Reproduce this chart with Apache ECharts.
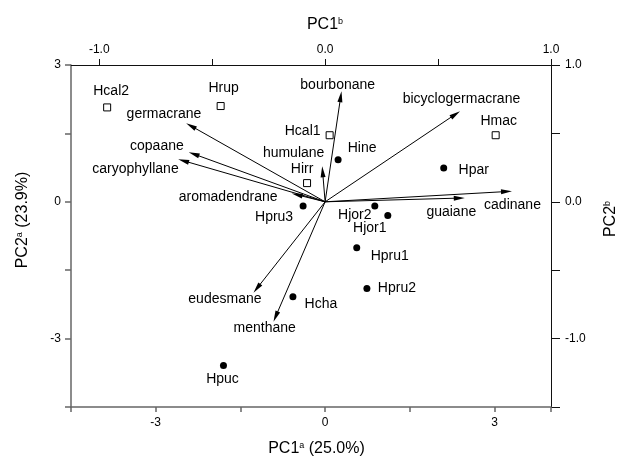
<!DOCTYPE html>
<html>
<head>
<meta charset="utf-8">
<script src="https://cdn.jsdelivr.net/npm/echarts@6/dist/echarts.min.js"></script>
<style>html,body{margin:0;padding:0;background:#fff;}#c{width:627px;height:462px;}</style>
</head>
<body>
<div id="c"></div>
<script>
// ---- data ----
const openNames = ['Hcal2', 'Hrup', 'Hcal1', 'Hirr', 'Hmac'];
const openPC1 = [-3.86, -1.85, 0.08, -0.32, 3.02];
const openPC2 = [2.07, 2.10, 1.46, 0.41, 1.46];

const filledNames = ['Hine', 'Hpar', 'Hpru3', 'Hjor2', 'Hjor1', 'Hpru1', 'Hpru2', 'Hcha', 'Hpuc'];
const filledPC1 = [0.23, 2.10, -0.39, 0.88, 1.11, 0.56, 0.74, -0.57, -1.80];
const filledPC2 = [0.92, 0.74, -0.09, -0.09, -0.30, -1.01, -1.90, -2.08, -3.59];

const loadingNames = ['bourbonane', 'bicyclogermacrane', 'germacrane', 'copaane', 'caryophyllane',
  'aromadendrane', 'humulane', 'cadinane', 'guaiane', 'eudesmane', 'menthane'];
const loadingPC1 = [0.069, 0.577, -0.594, -0.581, -0.627, -0.124, -0.011, 0.803, 0.594, -0.302, -0.219];
const loadingPC2 = [0.769, 0.640, 0.555, 0.349, 0.300, 0.051, 0.220, 0.075, 0.027, -0.633, -0.839];

const bottomLabels = [-3, 0, 3];
const leftLabels = [-3, 0, 3];
const topTicks = [-1, -0.5, 0, 0.5, 1];
const topLabels = [-1, 0, 1];
const rightLabels = [-1, 0, 1];

// ---- styling (label placement, px) ----
const labelOffsets = {
  Hcal2: [4, -16], Hrup: [3, -18], Hcal1: [-27, -4], Hirr: [-5, -14], Hmac: [3, -14],
  Hine: [24, -12], Hpar: [30, 2], Hpru3: [-29, 11], Hjor2: [-20, 9], Hjor1: [-18, 13],
  Hpru1: [33, 8], Hpru2: [30, 0], Hcha: [28, 7], Hpuc: [-1, 14],
  bourbonane: [-3, -11], bicyclogermacrane: [6, -15], germacrane: [-27, -12], copaane: [-37, -8],
  caryophyllane: [-48, 8], aromadendrane: [-69, 2], humulane: [-29, -19], cadinane: [6, 14],
  guaiane: [-8, 14], eudesmane: [-32, 11], menthane: [-11, 12]
};

const FONT = 'Liberation Sans, Arial, sans-serif';
const labelStyle = name => ({
  show: true, position: 'inside', offset: labelOffsets[name] || [0, 0],
  formatter: name, color: '#000', fontSize: 14, fontFamily: FONT,
  align: 'center', verticalAlign: 'middle', textBorderWidth: 0, opacity: 1
});

const openData = openNames.map((n, i) => ({ name: n, value: [openPC1[i], openPC2[i]], label: labelStyle(n) }));
const filledData = filledNames.map((n, i) => ({ name: n, value: [filledPC1[i], filledPC2[i]], label: labelStyle(n) }));
const arrowData = loadingNames.map((n, i) => ({ name: n, coords: [[0, 0], [loadingPC1[i], loadingPC2[i]]] }));
const loadingLabelData = loadingNames.map((n, i) => ({ name: n, value: [loadingPC1[i], loadingPC2[i]], label: labelStyle(n) }));

const nameRich = {
  m: { fontSize: 16, fontFamily: FONT, color: '#000' },
  s: { fontSize: 9, fontFamily: FONT, color: '#000', verticalAlign: 'top' }
};
const isInt = v => Math.abs(v - Math.round(v)) < 1e-9;
const lineA = { show: true, onZero: false, lineStyle: { color: '#666', width: 1.5 } };
const lineB = { show: true, onZero: false, lineStyle: { color: '#111', width: 1 } };

const chart = echarts.init(document.getElementById('c'), null, { renderer: 'canvas' });
chart.setOption({
  animation: false,
  backgroundColor: '#fff',
  grid: { left: 71, right: 70, top: 65, bottom: 53, containLabel: false },
  xAxis: [
    {
      type: 'value', position: 'bottom', min: -4.5, max: 4, interval: 1.5,
      axisLine: lineA, splitLine: { show: false },
      axisTick: { show: true, inside: false, length: 5, lineStyle: { color: '#666', width: 1.5 } },
      axisLabel: { margin: 10, fontSize: 12, fontFamily: FONT, color: '#000',
        formatter: v => bottomLabels.some(b => Math.abs(b - v) < 1e-9) ? String(Math.round(v)) : '' },
      name: '{m|PC1}{s|a}{m| (25.0%)}', nameLocation: 'middle', nameGap: 34,
      nameTextStyle: { rich: nameRich, padding: [0, 0, 0, 11] }
    },
    {
      type: 'value', position: 'top', min: -1.125, max: 1,
      axisLine: lineB, splitLine: { show: false },
      axisTick: { show: true, inside: false, length: 6, customValues: topTicks, lineStyle: { color: '#111' } },
      axisLabel: { margin: 9, fontSize: 12, fontFamily: FONT, color: '#000', customValues: topLabels,
        formatter: v => v.toFixed(1) },
      name: '{m|PC1}{s|b}', nameLocation: 'middle', nameGap: 32,
      nameTextStyle: { rich: nameRich, padding: [0, 0, 0, 28] }
    }
  ],
  yAxis: [
    {
      type: 'value', position: 'left', min: -4.5, max: 3, interval: 1.5,
      axisLine: lineA, splitLine: { show: false },
      axisTick: { show: true, inside: false, length: 6, lineStyle: { color: '#666', width: 1.5 } },
      axisLabel: { margin: 10, fontSize: 12, fontFamily: FONT, color: '#000',
        formatter: v => leftLabels.some(b => Math.abs(b - v) < 1e-9) ? String(Math.round(v)) : '' },
      name: '{m|PC2}{s|a}{m| (23.9%)}', nameLocation: 'middle', nameGap: 40, nameRotate: 90,
      nameTextStyle: { rich: nameRich, padding: [0, 0, 0, 32] }
    },
    {
      type: 'value', position: 'right', min: -1.5, max: 1, interval: 0.5,
      axisLine: lineB, splitLine: { show: false },
      axisTick: { show: true, inside: false, length: 9, lineStyle: { color: '#111' } },
      axisLabel: { margin: 14, fontSize: 12, fontFamily: FONT, color: '#000',
        formatter: v => (isInt(v) && rightLabels.some(b => Math.abs(b - v) < 1e-9)) ? v.toFixed(1) : '' },
      name: '{m|PC2}{s|b}', nameLocation: 'middle', nameGap: 52, nameRotate: 90,
      nameTextStyle: { rich: nameRich, padding: [0, 0, 0, 34] }
    }
  ],
  series: [
    {
      type: 'lines', coordinateSystem: 'cartesian2d', xAxisIndex: 1, yAxisIndex: 1,
      polyline: false, silent: true,
      symbol: ['none', 'path://M5,0 L10,22 L0,22 Z'], symbolSize: [1, [5, 11]],
      symbolOffset: [0, [0, 5]],
      lineStyle: { color: '#000', width: 1, opacity: 1, curveness: 0 },
      data: arrowData, z: 2
    },
    {
      type: 'scatter', xAxisIndex: 1, yAxisIndex: 1, symbol: 'circle', symbolSize: 0.01,
      itemStyle: { color: '#000', opacity: 1 },
      data: loadingLabelData, z: 3, silent: true
    },
    {
      type: 'scatter', xAxisIndex: 0, yAxisIndex: 0, symbol: 'rect', symbolSize: 7,
      itemStyle: { color: '#fff', borderColor: '#000', borderWidth: 1, opacity: 1 },
      data: openData, z: 4
    },
    {
      type: 'scatter', xAxisIndex: 0, yAxisIndex: 0, symbol: 'circle', symbolSize: 7,
      itemStyle: { color: '#000', opacity: 1 },
      data: filledData, z: 4
    }
  ]
});
</script>
</body>
</html>
